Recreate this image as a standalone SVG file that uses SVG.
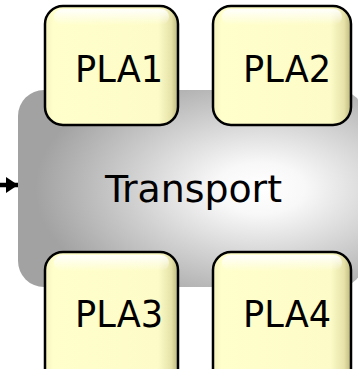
<svg xmlns="http://www.w3.org/2000/svg" width="358" height="369" viewBox="0 0 358 369">
<defs>
<radialGradient id="gGray" cx="0.7" cy="0.5" r="0.65">
<stop offset="0" stop-color="#ffffff"/>
<stop offset="0.2" stop-color="#f8f8f8"/>
<stop offset="0.55" stop-color="#d2d2d2"/>
<stop offset="1" stop-color="#a2a2a2"/>
</radialGradient>
<linearGradient id="gYel" x1="0" y1="0" x2="1" y2="0">
<stop offset="0" stop-color="#f4f2bc"/>
<stop offset="0.06" stop-color="#ffffcc"/>
<stop offset="0.85" stop-color="#fdfcc8"/>
<stop offset="0.95" stop-color="#e6e2a8"/>
<stop offset="1" stop-color="#bdb87c"/>
</linearGradient>
<linearGradient id="gHi" x1="0" y1="0" x2="0" y2="1">
<stop offset="0" stop-color="#ffffff" stop-opacity="0.95"/>
<stop offset="1" stop-color="#ffffff" stop-opacity="0"/>
</linearGradient>
<marker id="arr" viewBox="0 0 12 16" refX="12" refY="8" markerWidth="12" markerHeight="16" markerUnits="userSpaceOnUse" orient="auto">
<path d="M0,0 L12,8 L0,16 Z" fill="#000"/>
</marker>
<style>
.box{fill:url(#gYel);stroke:#000;stroke-width:2.5}
.hi{fill:url(#gHi)}
.lbl{font-family:"DejaVu Sans Condensed","DejaVu Sans",sans-serif;font-stretch:condensed;font-size:38px;fill:#000;text-anchor:middle}
</style>
</defs>
<g id="transport">
<rect x="18" y="90" width="346" height="197" rx="26" fill="url(#gGray)"/>
<text class="lbl" x="193.5" y="202" font-size="39" textLength="177" lengthAdjust="spacingAndGlyphs">Transport</text>
</g>
<g id="connectors">
<line x1="0" y1="185" x2="18" y2="185" stroke="#000" stroke-width="4.5" marker-end="url(#arr)"/>
</g>
<g id="pla1">
<rect class="box" x="45" y="6" width="133" height="119" rx="18"/>
<rect class="hi" x="54" y="9" width="115" height="16" rx="8"/>
<text class="lbl" x="119" y="82" textLength="88" lengthAdjust="spacingAndGlyphs">PLA1</text>
</g>
<g id="pla2">
<rect class="box" x="213" y="6" width="138" height="119" rx="18"/>
<rect class="hi" x="222" y="9" width="120" height="16" rx="8"/>
<text class="lbl" x="287" y="82" textLength="88" lengthAdjust="spacingAndGlyphs">PLA2</text>
</g>
<g id="pla3">
<rect class="box" x="45" y="252" width="133" height="135" rx="18"/>
<rect class="hi" x="54" y="255" width="115" height="16" rx="8"/>
<text class="lbl" x="119" y="327" textLength="88" lengthAdjust="spacingAndGlyphs">PLA3</text>
</g>
<g id="pla4">
<rect class="box" x="213" y="252" width="138" height="135" rx="18"/>
<rect class="hi" x="222" y="255" width="120" height="16" rx="8"/>
<text class="lbl" x="287" y="327" textLength="88" lengthAdjust="spacingAndGlyphs">PLA4</text>
</g>
</svg>
